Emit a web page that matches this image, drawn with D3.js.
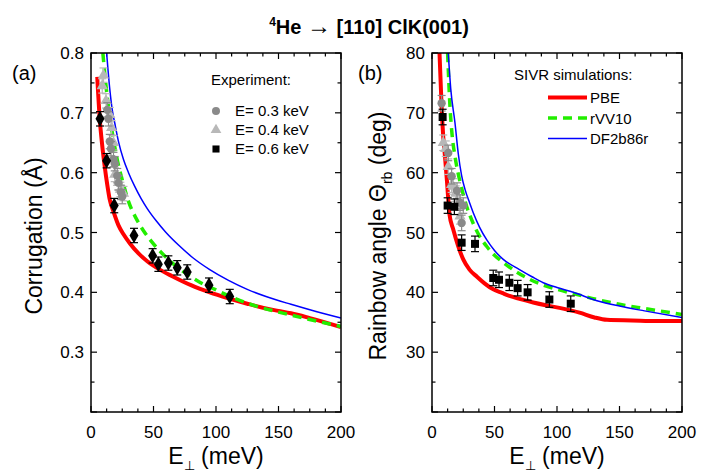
<!DOCTYPE html>
<html>
<head>
<meta charset="utf-8">
<script src="https://cdn.jsdelivr.net/npm/d3@7"></script>
<style>
  body { margin: 0; background: #fff; }
  svg text { font-family: "Liberation Sans", Arial, sans-serif; fill: #000; }
</style>
</head>
<body>
<div id="chart"></div>
<script>
// ---- data ----
// (a) corrugation (Angstrom) vs E_perp (meV)
const corrPBE_E = [5, 7, 9, 11, 13, 15, 18, 22, 26, 31, 38, 45, 55, 65, 80, 95, 110, 125, 140, 150, 160, 175, 200];
const corrPBE_V = [0.76, 0.69, 0.645, 0.61, 0.58, 0.555, 0.535, 0.512, 0.497, 0.482, 0.465, 0.452, 0.438, 0.427, 0.412, 0.400, 0.390, 0.381, 0.373, 0.369, 0.365, 0.357, 0.342];
const corrRVV_E = [9.5, 12, 14, 16, 18, 20, 22, 25, 30, 36, 42, 48, 56, 64, 75, 87, 100, 115, 132, 150, 170, 200];
const corrRVV_V = [0.80, 0.745, 0.71, 0.68, 0.655, 0.632, 0.612, 0.588, 0.552, 0.524, 0.503, 0.486, 0.467, 0.451, 0.433, 0.417, 0.404, 0.390, 0.377, 0.367, 0.357, 0.343];
const corrDF_E = [12.5, 15, 17, 19, 22, 26, 30, 35, 40, 45, 52, 60, 70, 82, 95, 110, 125, 140, 160, 180, 200];
const corrDF_V = [0.80, 0.74, 0.705, 0.683, 0.652, 0.622, 0.600, 0.577, 0.557, 0.540, 0.520, 0.500, 0.479, 0.457, 0.438, 0.420, 0.405, 0.393, 0.380, 0.368, 0.357];

const corr03_E = [13, 14, 15, 16, 18, 19, 21, 22, 24, 25];
const corr03_V = [0.705, 0.69, 0.652, 0.64, 0.622, 0.615, 0.595, 0.583, 0.567, 0.56];
const corr04_E = [9, 10, 12, 15, 16.5, 18, 19, 22, 23.5, 26];
const corr04_V = [0.745, 0.763, 0.72, 0.697, 0.675, 0.65, 0.597, 0.583, 0.572, 0.565];
const corr06_E = [7.2, 12.5, 18.6, 34.4, 49.3, 53.9, 61.9, 69, 77, 94.4, 111];
const corr06_V = [0.69, 0.62, 0.545, 0.495, 0.461, 0.447, 0.449, 0.441, 0.434, 0.412, 0.393];
const corrErr = 0.012;

// (b) rainbow angle (deg) vs E_perp (meV)
const rbPBE_E = [6, 7.7, 9, 10.4, 12, 14, 17, 21, 25, 30, 36, 42, 49, 56, 62, 70, 81, 92, 102, 118, 130, 140, 160, 180, 200];
const rbPBE_V = [80, 71, 66, 62.7, 58.5, 53, 50.5, 47.7, 45.5, 43.8, 42.6, 41.5, 40.5, 39.9, 39.4, 38.9, 38.3, 37.8, 37.4, 36.6, 35.8, 35.4, 35.3, 35.2, 35.2];
const rbRVV_E = [12.5, 14.4, 16, 18.4, 21, 23.7, 27.7, 33, 38, 43.7, 50, 57, 67.7, 78, 89, 100, 113, 132, 150, 170, 200];
const rbRVV_V = [80, 71, 66.5, 62.7, 59.8, 57.4, 54.4, 51.5, 49.4, 47.7, 46.2, 45, 43.4, 42.2, 41.2, 40.5, 39.8, 38.8, 38, 37.3, 36.3];
const rbDF_E = [13, 15, 18.4, 21, 23.7, 26.4, 30, 33, 38, 43.7, 50, 57, 70, 80, 89, 100, 113, 132, 150, 170, 200];
const rbDF_V = [80, 74, 68.3, 63.2, 59.5, 57.2, 55, 53.3, 50.9, 48.8, 47, 45.5, 43.8, 42.6, 41.6, 40.8, 40, 38.6, 37.7, 36.9, 35.8];

const rb03_E = [7.7, 13, 15.7, 20, 22.4, 23.7, 25];
const rb03_V = [71.6, 63.3, 59.4, 57, 55, 51.6, 54.5];
const rb04_E = [9, 11, 13, 15.7, 17, 19, 20.5, 22.4];
const rb04_V = [65, 64, 61, 58, 57.7, 56.5, 55, 52.7];
const rb06_E = [8.5, 12.5, 17.9, 23.7, 34.4, 49, 53.6, 61.9, 68.5, 76.5, 93.9, 111];
const rb06_V = [69.3, 54.5, 54.3, 48.3, 48.1, 42.4, 42.1, 41.6, 40.7, 40.0, 38.8, 38.1];
const rbErr = 1.3;

const xTicks = [0, 50, 100, 150, 200];
const corrTicks = [0.3, 0.4, 0.5, 0.6, 0.7, 0.8];
const rbTicks = [30, 40, 50, 60, 70, 80];

// ---- layout ----
const width = 712, height = 473;
const svg = d3.select("#chart").append("svg")
  .attr("width", width).attr("height", height);

const plotTop = 53, plotBottom = 412;

const zip = (xs, ys) => xs.map((x, i) => ({ x: x, y: ys[i] }));

function drawPanel(opt) {
  const x = d3.scaleLinear().domain([0, 200]).range([opt.left, opt.right]);
  const y = d3.scaleLinear().domain(opt.yDomain).range([plotBottom, plotTop]);
  const g = svg.append("g");

  const clipId = "clip" + opt.id;
  svg.append("clipPath").attr("id", clipId).append("rect")
    .attr("x", opt.left).attr("y", plotTop)
    .attr("width", opt.right - opt.left).attr("height", plotBottom - plotTop);

  // ticks (inward), major and minor
  const minorX = d3.range(0, 200.1, 12.5);
  const minorY = d3.range(opt.yDomain[0], opt.yDomain[1] + opt.minorStep / 2, opt.minorStep);
  const tk = g.append("g").attr("stroke", "#000").attr("stroke-width", 1.2);
  minorX.forEach(v => {
    const len = xTicks.includes(v) ? 6 : 3.5;
    tk.append("line").attr("x1", x(v)).attr("x2", x(v)).attr("y1", plotBottom).attr("y2", plotBottom - len);
    tk.append("line").attr("x1", x(v)).attr("x2", x(v)).attr("y1", plotTop).attr("y2", plotTop + len);
  });
  minorY.forEach(v => {
    const major = opt.yTicks.some(t => Math.abs(t - v) < 1e-6) || Math.abs(v - opt.yDomain[0]) < 1e-6;
    const len = major ? 6 : 3.5;
    tk.append("line").attr("x1", opt.left).attr("x2", opt.left + len).attr("y1", y(v)).attr("y2", y(v));
    tk.append("line").attr("x1", opt.right).attr("x2", opt.right - len).attr("y1", y(v)).attr("y2", y(v));
  });

  // tick labels
  g.selectAll(".xl").data(xTicks).enter().append("text")
    .attr("x", d => x(d)).attr("y", plotBottom + 26)
    .attr("text-anchor", "middle").attr("font-size", 17)
    .text(d => d);
  g.selectAll(".yl").data(opt.yTicks).enter().append("text")
    .attr("x", opt.left - 7).attr("y", d => y(d) + 6)
    .attr("text-anchor", "end").attr("font-size", 17)
    .text(d => opt.fmt(d));

  // curves
  const line = d3.line().x(d => x(d.x)).y(d => y(d.y)).curve(d3.curveMonotoneX);
  const cg = g.append("g").attr("clip-path", `url(#${clipId})`).attr("fill", "none");

  // experiment points with error bars
  const pg = g.append("g").attr("clip-path", `url(#${clipId})`);
  function points(data, shape, size, color) {
    const eb = pg.append("g").attr("stroke", color).attr("stroke-width", 1.2);
    data.forEach(d => {
      eb.append("line").attr("x1", x(d.x)).attr("x2", x(d.x)).attr("y1", y(d.y - opt.err)).attr("y2", y(d.y + opt.err));
      eb.append("line").attr("x1", x(d.x) - 4).attr("x2", x(d.x) + 4).attr("y1", y(d.y - opt.err)).attr("y2", y(d.y - opt.err));
      eb.append("line").attr("x1", x(d.x) - 4).attr("x2", x(d.x) + 4).attr("y1", y(d.y + opt.err)).attr("y2", y(d.y + opt.err));
    });
    pg.selectAll(null).data(data).enter().append("path")
      .attr("d", d3.symbol().type(shape).size(size))
      .attr("transform", d => `translate(${x(d.x)},${y(d.y)})`)
      .attr("fill", color);
  }
  points(opt.p04, d3.symbolTriangle, 55, "#b8b8b8");
  points(opt.p03, d3.symbolCircle, 55, "#8a8a8a");
  points(opt.p06, opt.shape06, opt.size06, "#000");

  cg.append("path").datum(opt.pbe).attr("d", line).attr("stroke", "#ff0000").attr("stroke-width", 4);
  cg.append("path").datum(opt.rvv).attr("d", line).attr("stroke", "#22ee00").attr("stroke-width", 3.5).attr("stroke-dasharray", "9,6");
  cg.append("path").datum(opt.df).attr("d", line).attr("stroke", "#0000ff").attr("stroke-width", 1.5);

  // frame
  g.append("rect").attr("x", opt.left).attr("y", plotTop)
    .attr("width", opt.right - opt.left).attr("height", plotBottom - plotTop)
    .attr("fill", "none").attr("stroke", "#000").attr("stroke-width", 1.5);

  // x label
  const xl = g.append("text").attr("x", (opt.left + opt.right) / 2).attr("y", 464)
    .attr("text-anchor", "middle").attr("font-size", 23);
  xl.append("tspan").text("E");
  xl.append("tspan").attr("font-size", 13).attr("dy", 6).text("\u22A5");
  xl.append("tspan").attr("dy", -6).text(" (meV)");

  // panel label
  g.append("text").attr("x", opt.tagX).attr("y", 80).attr("font-size", 20).text(opt.tag);
  return g;
}

drawPanel({
  id: "a", left: 91, right: 341, yDomain: [0.2, 0.8], yTicks: corrTicks, minorStep: 0.05,
  fmt: d3.format(".1f"), err: corrErr, tag: "(a)", tagX: 12,
  pbe: zip(corrPBE_E, corrPBE_V), rvv: zip(corrRVV_E, corrRVV_V), df: zip(corrDF_E, corrDF_V),
  p03: zip(corr03_E, corr03_V), p04: zip(corr04_E, corr04_V), p06: zip(corr06_E, corr06_V),
  shape06: d3.symbolDiamond, size06: 70
});

drawPanel({
  id: "b", left: 432, right: 682, yDomain: [20, 80], yTicks: rbTicks, minorStep: 5,
  fmt: d => d, err: rbErr, tag: "(b)", tagX: 358,
  pbe: zip(rbPBE_E, rbPBE_V), rvv: zip(rbRVV_E, rbRVV_V), df: zip(rbDF_E, rbDF_V),
  p03: zip(rb03_E, rb03_V), p04: zip(rb04_E, rb04_V), p06: zip(rb06_E, rb06_V),
  shape06: d3.symbolSquare, size06: 64
});

// y labels
svg.append("text").attr("transform", "translate(42,236) rotate(-90)")
  .attr("text-anchor", "middle").attr("font-size", 23).text("Corrugation (\u00C5)");
const yr = svg.append("text").attr("transform", "translate(386,236) rotate(-90)")
  .attr("text-anchor", "middle").attr("font-size", 23);
yr.append("tspan").text("Rainbow angle \u0398");
yr.append("tspan").attr("font-size", 14).attr("dy", 6).text("rb");
yr.append("tspan").attr("dy", -6).text(" (deg)");

// title
const title = svg.append("text").attr("x", 369).attr("y", 34)
  .attr("text-anchor", "middle").attr("font-size", 20).attr("font-weight", "bold");
title.append("tspan").attr("font-size", 12).attr("dy", -8).text("4");
title.append("tspan").attr("dy", 8).text("He ");
title.append("tspan").attr("font-size", 24).attr("font-weight", "normal").text("\u2192");
title.append("tspan").text(" [110] ClK(001)");

// legend (a)
svg.append("text").attr("x", 211).attr("y", 85).attr("font-size", 15).text("Experiment:");
const legA = [
  { label: "E= 0.3 keV", shape: d3.symbolCircle, size: 50, color: "#8a8a8a" },
  { label: "E= 0.4 keV", shape: d3.symbolTriangle, size: 50, color: "#b8b8b8" },
  { label: "E= 0.6 keV", shape: d3.symbolSquare, size: 50, color: "#000" }
];
legA.forEach((d, i) => {
  const yy = 111 + i * 19;
  svg.append("path").attr("d", d3.symbol().type(d.shape).size(d.size)())
    .attr("transform", `translate(216,${yy})`).attr("fill", d.color);
  svg.append("text").attr("x", 235).attr("y", yy + 5).attr("font-size", 15).text(d.label);
});

// legend (b)
svg.append("text").attr("x", 514).attr("y", 80).attr("font-size", 15).text("SIVR simulations:");
const legB = [
  { label: "PBE", color: "#ff0000", w: 4, dash: null },
  { label: "rVV10", color: "#22ee00", w: 3.5, dash: "9,6" },
  { label: "DF2b86r", color: "#0000ff", w: 1.5, dash: null }
];
legB.forEach((d, i) => {
  const yy = 97.5 + i * 20.5;
  svg.append("line").attr("x1", 548).attr("x2", 587).attr("y1", yy).attr("y2", yy)
    .attr("stroke", d.color).attr("stroke-width", d.w).attr("stroke-dasharray", d.dash);
  svg.append("text").attr("x", 590).attr("y", yy + 5.5).attr("font-size", 15).text(d.label);
});
</script>
</body>
</html>
